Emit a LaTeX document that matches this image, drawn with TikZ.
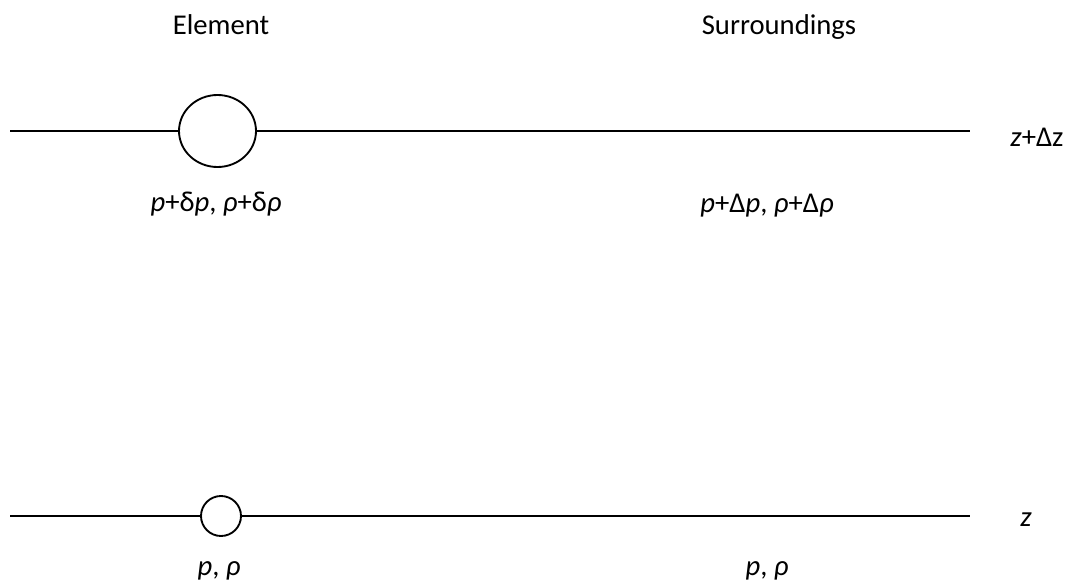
\documentclass[tikz,border=0pt]{standalone}
\usepackage{fontspec}
\setmainfont{Carlito}
\usetikzlibrary{shapes.geometric,positioning}

\begin{document}
\begin{tikzpicture}[
    x=0.75pt, y=-0.75pt,
    level/.style={draw, line width=1.4pt},
    parcel/.style={ellipse, draw, fill=white, line width=1.4pt, inner sep=0pt},
    lbl/.style={font=\fontsize{21.5}{26}\selectfont, inner sep=0pt}
  ]
  \useasboundingbox (0,0) rectangle (1078,582);

  % Headings
  \node[lbl] (element) at (221,25) {Element};
  \node[lbl] (surr) at (779,27) {Surroundings};

  % Upper level z+dz
  \coordinate (upL) at (10,131);
  \coordinate (upR) at (970,131);
  \node[parcel, minimum width=57.75pt, minimum height=54pt] (big) at (217.5,131) {};
  \draw[level] (upL) -- (big.west);
  \draw[level] (big.east) -- (upR);
  \node[lbl] (zdz) at (1037,137) {\textit{z}+Δz};
  \node[lbl] (inside) at (216,204) {\textit{p}+δ\textit{p}, \textit{ρ}+δ\textit{ρ}};
  \node[lbl] (outside) at (767,206) {\textit{p}+Δ\textit{p}, \textit{ρ}+Δ\textit{ρ}};

  % Lower level z
  \coordinate (loL) at (10,516);
  \coordinate (loR) at (970,516);
  \node[parcel, minimum width=30pt, minimum height=30pt] (small) at (221,516) {};
  \draw[level] (loL) -- (small.west);
  \draw[level] (small.east) -- (loR);
  \node[lbl] (z) at (1026,520) {\textit{z}};
  \node[lbl] (insidelo) at (219,571) {\textit{p}, \textit{ρ}};
  \node[lbl] (outsidelo) at (767,571) {\textit{p}, \textit{ρ}};

\end{tikzpicture}
\end{document}
